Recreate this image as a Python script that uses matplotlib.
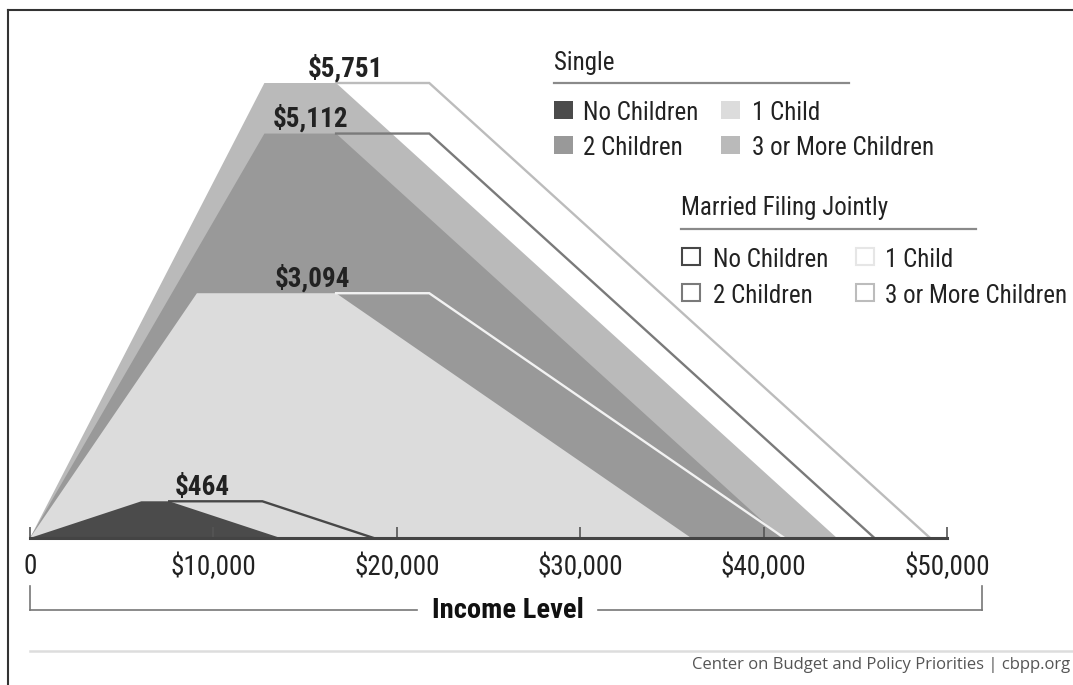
import matplotlib
matplotlib.use("Agg")
import matplotlib.pyplot as plt
from matplotlib.patches import Rectangle
from matplotlib import font_manager
from matplotlib.lines import Line2D

# ---------------- data ----------------
categories = ["No Children", "1 Child", "2 Children", "3 or More Children"]
max_credit = [464, 3094, 5112, 5751]
phase_in_end = [6070, 9100, 12780, 12780]
single_phaseout_start = [7590, 16690, 16690, 16690]
single_end = [13660, 36052, 40964, 43998]
married_phaseout_start = [12670, 21770, 21770, 21770]
married_end = [18740, 41132, 46044, 49078]
value_labels = ["$464", "$3,094", "$5,112", "$5,751"]
xticks = [0, 10000, 20000, 30000, 40000, 50000]
xtick_labels = ["0", "$10,000", "$20,000", "$30,000", "$40,000", "$50,000"]

single_colors = ["#4b4b4b", "#dcdcdc", "#999999", "#bababa"]
married_colors = ["#474747", "#f2f2f2", "#7a7a7a", "#bcbcbc"]

# ---------------- fonts ----------------
avail = {f.name for f in font_manager.fontManager.ttflist}
cond = next((f for f in ["Liberation Sans Narrow", "Roboto Condensed", "DejaVu Sans"] if f in avail), "DejaVu Sans")
plain = next((f for f in ["Open Sans", "Liberation Sans", "DejaVu Sans"] if f in avail), "DejaVu Sans")

W, H = 1073, 685
fig = plt.figure(figsize=(W / 100, H / 100), dpi=100)
fig.patch.set_facecolor("white")

def P(x, y):
    return (x / W, 1 - y / H)

# axes placement: x 0 -> px 30, 50000 -> px 947 ; y 0 -> px 538, 6000 -> px 63.4
x0, x1 = 30, 947
yb, yt = 538, 538 - 6000 * (455 / 5751)
ax = fig.add_axes([x0 / W, 1 - yb / H, (x1 - x0) / W, (yb - yt) / H])
ax.set_xlim(0, 50000)
ax.set_ylim(0, 6000)
ax.set_facecolor("none")
for s in ["top", "right", "left"]:
    ax.spines[s].set_visible(False)
ax.spines["bottom"].set_color("#444444")
ax.spines["bottom"].set_linewidth(2.2)
ax.spines["bottom"].set_zorder(5)
ax.set_yticks([])
ax.set_xticks(xticks)
ax.set_xticklabels(xtick_labels, fontfamily=cond, fontsize=19.5, color="#222222")
ax.tick_params(axis="x", direction="in", length=8, width=1.2, color="#555555", pad=11)

# single filled shapes, largest behind
order = [3, 2, 1, 0]
for z, i in enumerate(order):
    xs = [0, phase_in_end[i], single_phaseout_start[i], single_end[i]]
    ys = [0, max_credit[i], max_credit[i], 0]
    ax.fill(xs, ys, color=single_colors[i], lw=0, zorder=1 + z * 0.1)

# married outlines
for i in order:
    xs = [single_phaseout_start[i], married_phaseout_start[i], married_end[i]]
    ys = [max_credit[i], max_credit[i], 0]
    ax.plot(xs, ys, color=married_colors[i], lw=1.7, zorder=3, solid_joinstyle="miter")

# value labels
label_x = [9400, 15400, 15300, 17200]
for i in range(4):
    ax.text(label_x[i], max_credit[i] + 85, value_labels[i], fontfamily=cond,
            fontweight="bold", fontsize=19.5, color="#222222", ha="center", va="baseline", zorder=6)

# ---------------- legend ----------------
def txt(x, y, s, **kw):
    fig.text(*P(x, y), s, transform=fig.transFigure, **kw)

def hline(xa, xb, y, color, lw):
    fig.add_artist(Line2D([xa / W, xb / W], [1 - y / H, 1 - y / H], color=color, lw=lw,
                          transform=fig.transFigure))

def vline(x, ya, yb_, color, lw):
    fig.add_artist(Line2D([x / W, x / W], [1 - ya / H, 1 - yb_ / H], color=color, lw=lw,
                          transform=fig.transFigure))

lfs = 18.0
txt(554, 70, "Single", fontfamily=cond, fontsize=lfs, color="#222222", va="baseline")
hline(554, 849, 83, "#8a8a8a", 1.6)
rows_s = [(554, 583, 120), (721, 752, 120), (554, 583, 155), (721, 752, 155)]
idx_s = [0, 1, 2, 3]
for (sx, tx, by), i in zip(rows_s, idx_s):
    fig.add_artist(Rectangle(P(sx, by - 1), 19 / W, 18 / H, transform=fig.transFigure,
                             facecolor=single_colors[i], edgecolor="none"))
    txt(tx, by, categories[i], fontfamily=cond, fontsize=lfs, color="#222222", va="baseline")

txt(681, 215, "Married Filing Jointly", fontfamily=cond, fontsize=lfs, color="#222222", va="baseline")
hline(681, 976, 229, "#8a8a8a", 1.6)
rows_m = [(682, 713, 267), (856, 885, 267), (682, 713, 303), (856, 885, 303)]
for (sx, tx, by), i in zip(rows_m, idx_s):
    fig.add_artist(Rectangle(P(sx, by - 2), 18 / W, 17 / H, transform=fig.transFigure,
                             facecolor="white", edgecolor=married_colors[i] if i != 1 else "#e6e6e6",
                             lw=1.5))
    txt(tx, by, categories[i], fontfamily=cond, fontsize=lfs, color="#222222", va="baseline")

# ---------------- income level bracket ----------------
vline(30, 586, 610, "#777777", 1.2)
hline(30, 417, 610, "#777777", 1.2)
hline(598, 982, 610, "#777777", 1.2)
vline(982, 586, 610, "#777777", 1.2)
txt(508, 611, "Income Level", fontfamily=cond, fontweight="bold", fontsize=20.5,
    color="#111111", ha="center", va="center")

# ---------------- footer ----------------
hline(30, 1073, 651, "#dddddd", 1.8)
txt(1070, 665, "Center on Budget and Policy Priorities | cbpp.org", fontfamily=plain,
    fontsize=12, color="#555555", ha="right", va="center")

# ---------------- frame ----------------
hline(8, 1073, 10, "#333333", 1.5)
vline(8, 10, 685, "#333333", 1.5)

fig.savefig("out.png", dpi=100, facecolor="white")
